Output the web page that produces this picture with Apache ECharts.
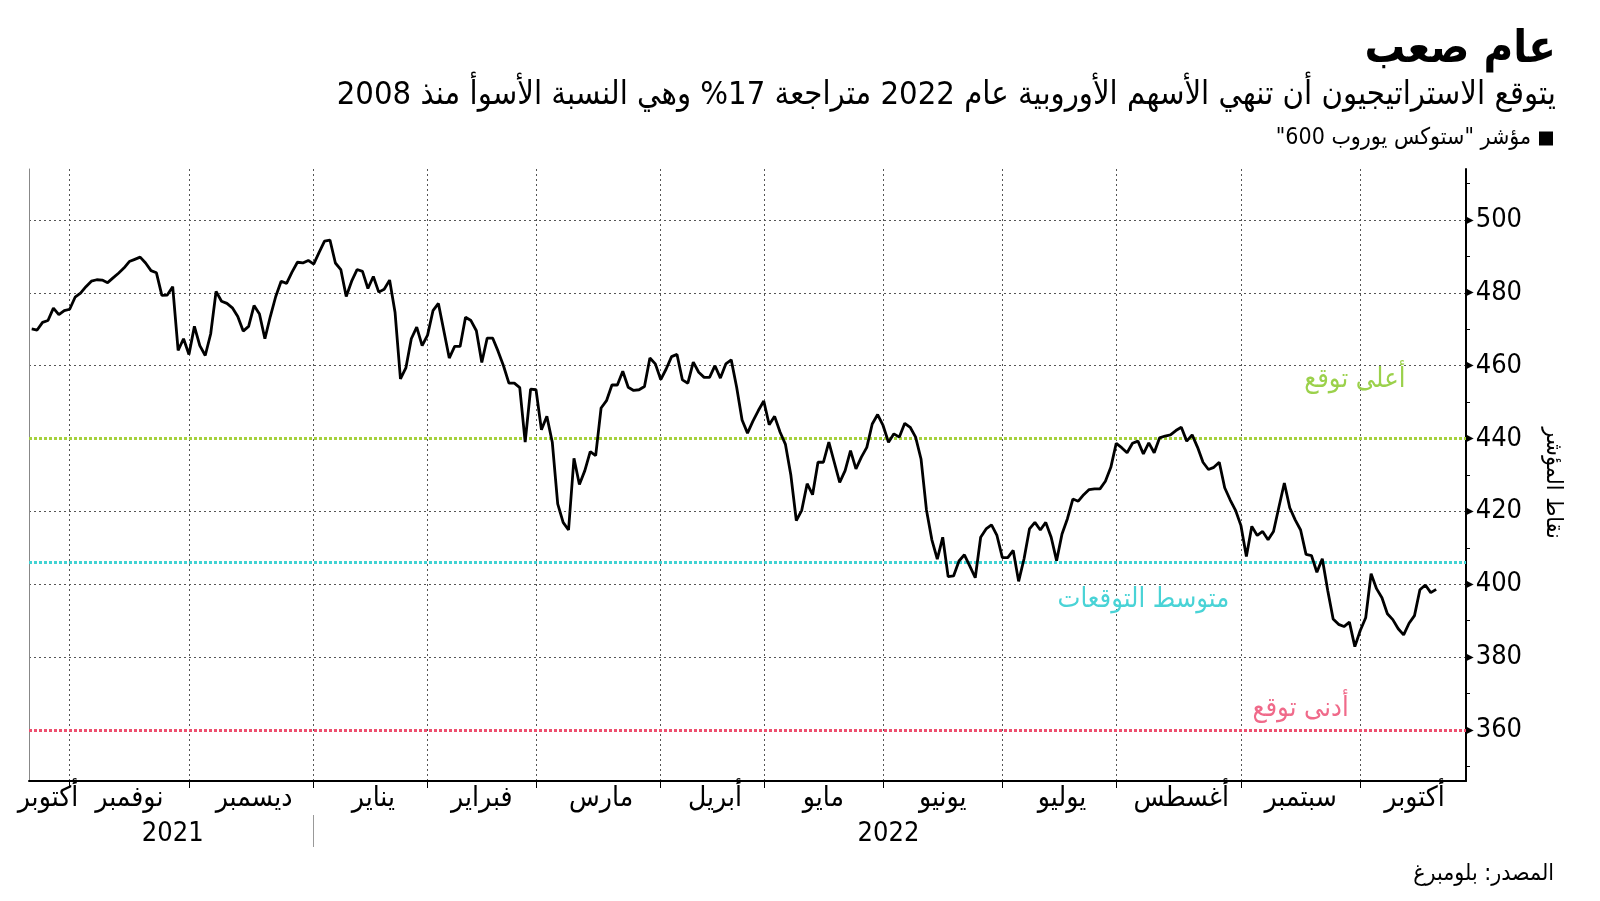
<!DOCTYPE html>
<html>
<head>
<meta charset="utf-8">
<script src="https://cdn.jsdelivr.net/npm/echarts@6/dist/echarts.min.js"></script>
<style>
html,body{margin:0;padding:0;background:#fff;}
#c{width:1600px;height:901px;}
</style>
</head>
<body>
<div id="c" dir="rtl"></div>
<script>
// ---- data ----
const startDate = '2021-10-21';
const endDate = '2022-10-28';
const holidays = ['2022-04-15', '2022-04-18'];
const monthNames = ['يناير','فبراير','مارس','أبريل','مايو','يونيو','يوليو','أغسطس','سبتمبر','أكتوبر','نوفمبر','ديسمبر'];
const seriesName = 'مؤشر "ستوكس يوروب 600"';
const values = [
470.1,469.8,471.9,472.4,475.8,474.0,475.1,475.5,478.8,479.9,
481.7,483.2,483.6,483.5,482.8,484.1,485.4,486.8,488.6,489.2,
489.8,488.2,486.1,485.5,479.3,479.4,481.7,464.2,467.4,463.1,
470.8,465.5,462.8,468.7,480.4,477.7,477.1,475.9,473.5,469.5,
470.8,476.5,474.2,467.4,473.5,479.0,483.2,482.6,485.7,488.4,
488.2,488.9,487.9,491.1,494.2,494.5,488.2,486.4,479.0,483.2,
486.4,485.9,481.2,484.5,480.2,481.0,483.5,474.7,456.4,459.4,
467.4,470.6,465.5,468.4,475.1,477.1,469.6,462.1,465.3,465.3,
473.3,472.4,469.6,460.9,467.6,467.6,464.0,460.0,455.2,455.2,
454.0,439.0,453.6,453.4,442.4,446.1,439.0,422.1,417.0,414.9,
434.6,427.4,431.2,436.4,435.3,448.4,450.4,454.7,454.7,458.5,
454.1,453.2,453.4,454.3,462.1,460.5,456.2,459.1,462.5,463.1,
456.1,455.2,461.0,458.2,456.8,456.8,460.0,456.6,460.5,461.6,
454.1,445.1,441.5,444.8,447.7,450.3,443.8,446.1,441.8,438.4,
429.9,417.5,420.3,427.6,424.6,433.5,433.5,439.0,433.5,428.0,
431.2,436.7,431.7,434.9,437.6,444.0,446.6,443.6,439.0,441.3,
440.4,444.2,443.1,440.4,434.4,420.4,412.2,406.9,412.9,402.1,
402.3,406.4,408.1,405.0,401.8,412.9,415.2,416.3,413.4,407.3,
407.3,409.3,400.8,407.0,415.2,417.0,414.9,417.0,412.9,406.5,
413.8,418.0,423.4,422.8,424.6,426.0,426.2,426.2,428.3,432.1,
438.7,437.5,436.1,438.7,439.3,435.8,438.8,436.1,440.2,440.7,
441.0,442.2,443.1,439.3,441.0,437.6,433.5,431.5,432.1,433.5,
426.5,423.2,420.3,416.1,407.6,415.9,413.4,414.5,412.2,414.5,
421.2,427.8,421.0,417.7,414.9,408.2,407.9,403.3,407.0,398.3,
390.5,389.0,388.4,389.6,382.9,387.3,390.8,402.9,398.8,396.3,
391.9,390.3,387.8,386.1,389.3,391.4,398.5,399.8,397.7,398.6
];
const yMajorTicks = [360, 380, 400, 420, 440, 460, 480, 500];
const yMinorTicks = [350, 360, 370, 380, 390, 400, 410, 420, 430, 440, 450, 460, 470, 480, 490, 500, 510];
const forecastHigh = 440;
const forecastAvg = 406;
const forecastLow = 360;
const forecastLabels = ['أعلى توقع', 'متوسط التوقعات', 'أدنى توقع'];
const titleText = 'عام صعب';
const subtitleText = 'يتوقع الاستراتيجيون أن تنهي الأسهم الأوروبية عام 2022 متراجعة 17% وهي النسبة الأسوأ منذ 2008';
const sourceText = 'المصدر: بلومبرغ';
const axisName = 'نقاط المؤشر';

// ---- categories: trading days ----
const dates = [];
for (let d = new Date(startDate + 'T00:00:00Z'); d <= new Date(endDate + 'T00:00:00Z'); d.setUTCDate(d.getUTCDate() + 1)) {
  const wd = d.getUTCDay();
  const s = d.toISOString().slice(0, 10);
  if (wd === 0 || wd === 6 || holidays.includes(s)) continue;
  dates.push(s);
}
const monthStarts = [];
for (let i = 1; i < dates.length; i++) {
  if (dates[i].slice(5, 7) !== dates[i - 1].slice(5, 7)) monthStarts.push(i);
}
const monthStartSet = new Set(monthStarts);
const bounds = [-0.5].concat(monthStarts, [dates.length - 0.5]);
const monthLabelIdx = new Set();
for (let k = 0; k < bounds.length - 1; k++) monthLabelIdx.add(Math.round((bounds[k] + bounds[k + 1]) / 2));
let yearStart = dates.findIndex((s, i) => i > 0 && s.slice(0, 4) !== dates[i - 1].slice(0, 4));
const yearLabelIdx = new Set([Math.round((-0.5 + yearStart) / 2), Math.round((yearStart + dates.length - 0.5) / 2)]);

const FONT = "'DejaVu Sans Condensed', 'DejaVu Sans', sans-serif";
const YMIN = 346, YMAX = 514;
const gridDash = { color: '#555', width: 1, type: [2, 3] };

const chart = echarts.init(document.getElementById('c'), null, { renderer: 'canvas' });
chart.setOption({
  animation: false,
  backgroundColor: '#fff',
  textStyle: { fontFamily: FONT },
  title: [
    { text: titleText, right: 44, top: 28, padding: 0, textStyle: { fontFamily: FONT, fontSize: 45, fontWeight: 'bold', color: '#000' } },
    { text: subtitleText, right: 44, top: 79, padding: 0, textStyle: { fontFamily: FONT, fontSize: 32.5, fontWeight: 'normal', color: '#000' } },
    { text: sourceText, right: 46, top: 863, padding: 0, textStyle: { fontFamily: FONT, fontSize: 23, fontWeight: 'normal', color: '#000' } }
  ],
  legend: {
    right: 47, top: 127, padding: 0, align: 'right', icon: 'rect', itemWidth: 14, itemHeight: 14,
    textStyle: { fontFamily: FONT, fontSize: 23, color: '#000', padding: [0, 3, 0, 0] },
    data: [seriesName]
  },
  grid: { left: 29, right: 134, top: 169, bottom: 120 },
  xAxis: [
    {
      type: 'category', data: dates, boundaryGap: true,
      axisLine: { show: true, lineStyle: { color: '#000', width: 2 } },
      axisTick: { show: true, alignWithLabel: true, length: 7, lineStyle: { color: '#000', width: 1 },
        interval: (i) => monthStartSet.has(i) },
      axisLabel: { show: true, margin: 4, fontSize: 28, color: '#000', fontFamily: FONT,
        interval: (i) => monthLabelIdx.has(i),
        formatter: (v) => monthNames[parseInt(v.slice(5, 7), 10) - 1] },
      splitLine: { show: true, alignWithLabel: true, interval: (i) => monthStartSet.has(i), lineStyle: gridDash }
    },
    {
      type: 'category', data: dates, boundaryGap: true, position: 'bottom', offset: 34,
      axisLine: { show: false },
      axisTick: { show: true, alignWithLabel: true, length: 32, lineStyle: { color: '#999', width: 1 },
        interval: (i) => i === yearStart },
      axisLabel: { show: true, margin: 5, fontSize: 27, color: '#000', fontFamily: FONT,
        interval: (i) => yearLabelIdx.has(i),
        formatter: (v) => v.slice(0, 4) },
      splitLine: { show: false }
    }
  ],
  yAxis: [
    {
      type: 'value', position: 'right', min: YMIN, max: YMAX,
      name: axisName, nameLocation: 'middle', nameRotate: -90, nameGap: 75,
      nameTextStyle: { fontFamily: FONT, fontSize: 23, color: '#000', padding: [0, 0, 0, 16] },
      axisLine: { show: true, lineStyle: { color: '#000', width: 2 } },
      axisTick: { show: false, customValues: yMajorTicks },
      axisLabel: { show: true, margin: 0, customValues: yMajorTicks,
        formatter: (v) => '{t|▶}{n|' + v + '}',
        rich: { t: { fontSize: 10, color: '#000', fontFamily: 'DejaVu Sans', padding: [0, 2, 0, 0] }, n: { fontSize: 27, color: '#000', fontFamily: FONT } } },
      splitLine: { show: true, lineStyle: gridDash }
    },
    {
      type: 'value', position: 'right', min: YMIN, max: YMAX,
      axisLine: { show: false },
      axisTick: { show: true, length: 4, customValues: yMinorTicks, lineStyle: { color: '#000', width: 1 } },
      axisLabel: { show: false },
      splitLine: { show: false }
    },
    {
      type: 'value', position: 'left', min: YMIN, max: YMAX,
      axisLine: { show: true, lineStyle: { color: '#888', width: 1 } },
      axisTick: { show: false }, axisLabel: { show: false }, splitLine: { show: false }
    }
  ],
  series: [
    {
      name: seriesName, type: 'line', data: values, xAxisIndex: 0, yAxisIndex: 0,
      showSymbol: false, symbol: 'none', color: '#000',
      lineStyle: { color: '#000', width: 2.8 }, z: 5,
      markLine: {
        silent: true, symbol: 'none', label: { show: false }, z: 3,
        data: [
          { yAxis: forecastHigh, lineStyle: { color: '#a5d23c', width: 3, type: [3, 2] } },
          { yAxis: forecastAvg, lineStyle: { color: '#41d3d3', width: 3, type: [3, 2] } },
          { yAxis: forecastLow, lineStyle: { color: '#ee4f6f', width: 3, type: [3, 2] } }
        ]
      },
      markPoint: {
        silent: true, symbol: 'rect', symbolSize: 0,
        data: [
          { coord: [dates[244], 456.2], label: { show: true, position: 'inside', formatter: forecastLabels[0], color: '#9bd14b', fontSize: 27, fontFamily: FONT } },
          { coord: [dates[205], 395.6], label: { show: true, position: 'inside', formatter: forecastLabels[1], color: '#49d3d6', fontSize: 27, fontFamily: FONT } },
          { coord: [dates[234], 365.7], label: { show: true, position: 'inside', formatter: forecastLabels[2], color: '#f06a8a', fontSize: 27, fontFamily: FONT } }
        ]
      }
    }
  ]
});
</script>
</body>
</html>
